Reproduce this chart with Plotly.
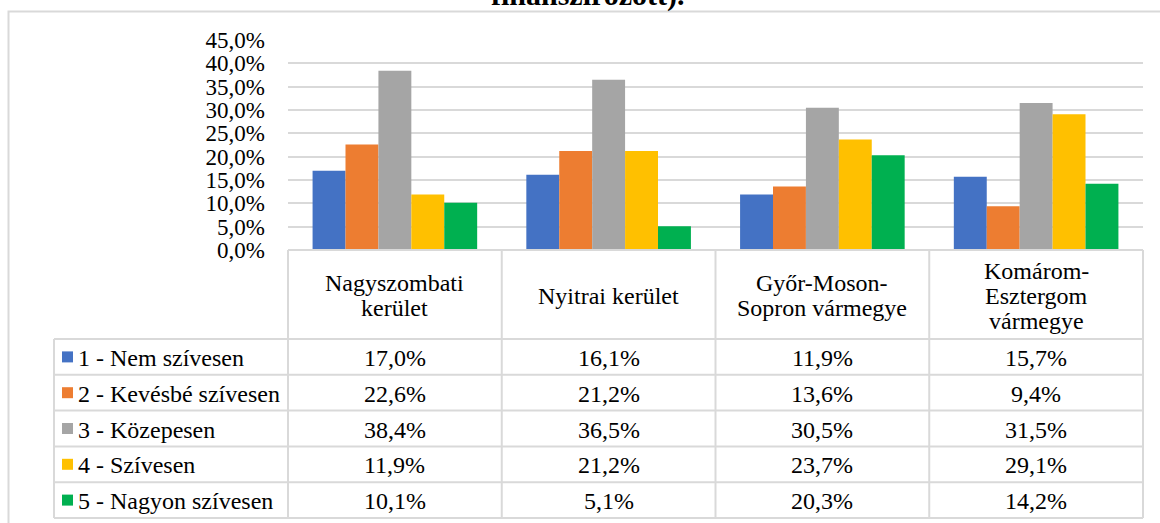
import plotly.graph_objects as go

# ---------------- data ----------------
categories = ["Nagyszombati kerület", "Nyitrai kerület",
              "Győr-Moson-Sopron vármegye", "Komárom-Esztergom vármegye"]
category_labels = ["Nagyszombati<br>kerület", "Nyitrai kerület",
                   "Győr-Moson-<br>Sopron vármegye", "Komárom-<br>Esztergom<br>vármegye"]
series_names = ["1 - Nem szívesen", "2 - Kevésbé szívesen", "3 - Közepesen",
                "4 - Szívesen", "5 - Nagyon szívesen"]
nem_szivesen = [17.0, 16.1, 11.9, 15.7]
kevesbe_szivesen = [22.6, 21.2, 13.6, 9.4]
kozepesen = [38.4, 36.5, 30.5, 31.5]
szivesen = [11.9, 21.2, 23.7, 29.1]
nagyon_szivesen = [10.1, 5.1, 20.3, 14.2]
series_values = [nem_szivesen, kevesbe_szivesen, kozepesen, szivesen, nagyon_szivesen]
tick_vals = [0, 5, 10, 15, 20, 25, 30, 35, 40, 45]
tick_text = ["0,0%", "5,0%", "10,0%", "15,0%", "20,0%", "25,0%", "30,0%",
             "35,0%", "40,0%", "45,0%"]
title_fragment = "finanszírozott)."

# ---------------- style ----------------
colors = ["#4472C4", "#ED7D31", "#A5A5A5", "#FFC000", "#00B050"]
FONT = "Liberation Serif"
TXT = 24
GRID = "#D9D9D9"
W, H = 1160, 523
L, R, T, B = 288, 17, 40, 273
PW, PH = W - L - R, H - T - B


def px2x(px):
    return (px - L) / PW


def px2y(py):
    return (H - B - py) / PH


def fmt(v):
    return f"{v:.1f}".replace(".", ",") + "%"


fig = go.Figure()
for name, vals, col in zip(series_names, series_values, colors):
    fig.add_trace(go.Bar(x=categories, y=vals, name=name, marker_color=col,
                         marker_line_width=0, showlegend=False))

shapes = []
annotations = []
line = dict(color=GRID, width=2)

# table geometry (pixels)
table_left = 54
header_top = H - B
header_bottom = 339
row_h = 35.8
n_rows = len(series_names)
table_bottom = header_bottom + n_rows * row_h

for r in range(n_rows + 1):
    yy = px2y(header_bottom + r * row_h)
    shapes.append(dict(type="line", xref="paper", yref="paper", x0=px2x(table_left),
                       x1=1, y0=yy, y1=yy, line=line))
shapes.append(dict(type="line", xref="paper", yref="paper", x0=0, x1=1,
                   y0=0, y1=0, line=line))
shapes.append(dict(type="line", xref="paper", yref="paper", x0=px2x(table_left),
                   x1=px2x(table_left), y0=px2y(header_bottom), y1=px2y(table_bottom),
                   line=line))
for i in range(len(categories) + 1):
    xx = i / len(categories)
    shapes.append(dict(type="line", xref="paper", yref="paper", x0=xx, x1=xx,
                       y0=0, y1=px2y(table_bottom), line=line))

# header labels
hdr_mid = (header_top + header_bottom) / 2
line_gap = 25
for i, lab in enumerate(category_labels):
    parts = lab.split("<br>")
    n = len(parts)
    for k, p in enumerate(parts):
        yc = hdr_mid + (k - (n - 1) / 2) * line_gap + 1
        annotations.append(dict(text=p, xref="paper", yref="paper",
                                x=(i + 0.5) / len(categories), y=px2y(yc),
                                xanchor="center", yanchor="middle", showarrow=False,
                                font=dict(family=FONT, size=TXT, color="black")))

# data rows
for r, (name, vals, col) in enumerate(zip(series_names, series_values, colors)):
    yc = header_bottom + (r + 0.5) * row_h
    shapes.append(dict(type="rect", xref="paper", yref="paper",
                       x0=px2x(62), x1=px2x(73), y0=px2y(yc - 5.5), y1=px2y(yc + 5.5),
                       fillcolor=col, line=dict(width=0)))
    annotations.append(dict(text=name, xref="paper", yref="paper", x=px2x(76),
                            y=px2y(yc + 1), xanchor="left", yanchor="middle",
                            showarrow=False,
                            font=dict(family=FONT, size=TXT, color="black")))
    for i, v in enumerate(vals):
        annotations.append(dict(text=fmt(v), xref="paper", yref="paper",
                                x=(i + 0.5) / len(categories), y=px2y(yc + 1),
                                xanchor="center", yanchor="middle", showarrow=False,
                                font=dict(family=FONT, size=TXT, color="black")))

# chart area border
shapes.append(dict(type="rect", xref="paper", yref="paper", x0=px2x(8.5), x1=px2x(1175),
                   y0=px2y(540), y1=px2y(11.5), line=dict(color=GRID, width=2),
                   layer="below"))

# clipped title fragment (cut off at the top, as in the source image)
annotations.append(dict(text="<b>" + title_fragment + "</b>", xref="paper", yref="paper",
                        x=px2x(588), y=px2y(14), xanchor="center", yanchor="bottom",
                        showarrow=False,
                        font=dict(family=FONT, size=30, color="black")))

fig.update_layout(
    width=W, height=H,
    margin=dict(l=L, r=R, t=T, b=B, pad=0),
    paper_bgcolor="white", plot_bgcolor="white",
    barmode="group", bargap=0.23, bargroupgap=0,
    shapes=shapes, annotations=annotations,
    xaxis=dict(type="category", range=[-0.5, 3.5], showticklabels=False,
               showgrid=False, zeroline=False, showline=False, fixedrange=True),
    yaxis=dict(range=[0, 45], tickvals=tick_vals, ticktext=tick_text,
               showgrid=True, gridcolor=GRID, gridwidth=2, zeroline=False,
               showline=False, ticks="", ticklabelstandoff=22,
               tickfont=dict(family=FONT, size=23, color="black")),
)

fig.write_html("out.html", config={"displayModeBar": False},
               post_script="document.body.style.margin='0';")
